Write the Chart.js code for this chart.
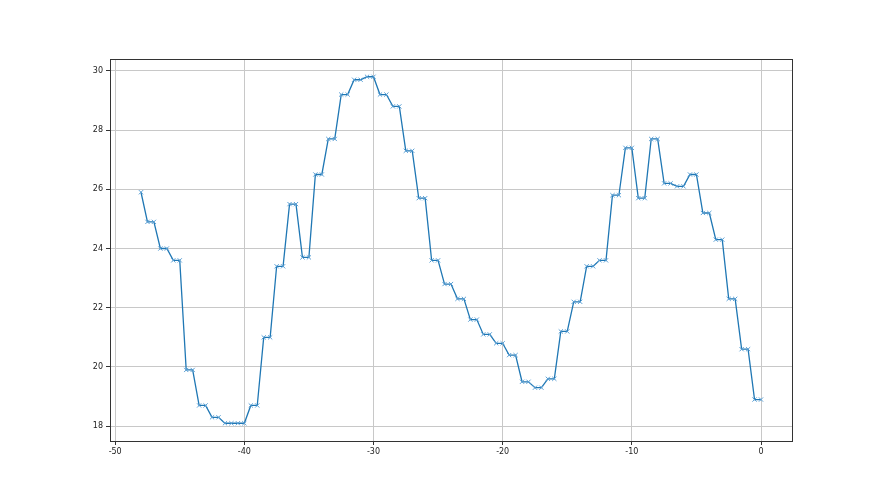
<!DOCTYPE html>
<html>
<head>
<meta charset="utf-8">
<script src="https://cdn.jsdelivr.net/npm/chart.js@4"></script>
<style>
  html, body { margin: 0; padding: 0; background: #fff; }
  #wrap { width: 880px; height: 495px; }
</style>
</head>
<body>
<div id="wrap"><canvas id="lineChart" width="880" height="495"></canvas></div>
<script>
// first sample sits alone at x = -48, then every value repeats at x-0.5 and x
var firstX = -48;
var firstValue = 25.9;
var pairEnds = [-47, -46, -45, -44, -43, -42, -41, -40, -39, -38, -37, -36,
    -35, -34, -33, -32, -31, -30, -29, -28, -27, -26, -25, -24,
    -23, -22, -21, -20, -19, -18, -17, -16, -15, -14, -13, -12,
    -11, -10, -9, -8, -7, -6, -5, -4, -3, -2, -1, 0];
var pairValues = [24.9, 24.0, 23.6, 19.9, 18.7, 18.3, 18.1, 18.1, 18.7, 21.0, 23.4, 25.5,
    23.7, 26.5, 27.7, 29.2, 29.7, 29.8, 29.2, 28.8, 27.3, 25.7, 23.6, 22.8,
    22.3, 21.6, 21.1, 20.8, 20.4, 19.5, 19.3, 19.6, 21.2, 22.2, 23.4, 23.6,
    25.8, 27.4, 25.7, 27.7, 26.2, 26.1, 26.5, 25.2, 24.3, 22.3, 20.6, 18.9];
var xTicks = [-50, -40, -30, -20, -10, 0];
var yTicks = [18, 20, 22, 24, 26, 28, 30];

var points = [{ x: firstX, y: firstValue }];
pairEnds.forEach((x, i) => {
    points.push({ x: x - 0.5, y: pairValues[i] });
    points.push({ x: x, y: pairValues[i] });
});

// box around the plot area (matplotlib spines)
var frame = {
    id: "frame",
    afterDraw(chart) {
        var a = chart.chartArea, c = chart.ctx;
        c.save();
        c.strokeStyle = "#333";
        c.lineWidth = 1;
        c.strokeRect(Math.round(a.left) + 0.5, Math.round(a.top) + 0.5,
            Math.round(a.right - a.left), Math.round(a.bottom - a.top));
        c.restore();
    },
};

Chart.defaults.font.family = "'DejaVu Sans', sans-serif";
Chart.defaults.font.size = 8;
Chart.defaults.color = "#222";

var ctx = document.getElementById("lineChart").getContext("2d");
new Chart(ctx, {
    type: "line",
    data: {
        datasets: [
            {
                data: points,
                borderColor: "#1f77b4",
                backgroundColor: "#1f77b4",
                borderWidth: 1.3,
                pointStyle: "crossRot",
                pointRadius: 3,
                pointBorderColor: "#5a9fd4",
                pointBorderWidth: 1,
                fill: false,
                tension: 0,
            },
        ],
    },
    options: {
        responsive: false,
        animation: false,
        layout: { padding: { left: 0, top: 59, right: 88, bottom: 0 } },
        plugins: { legend: { display: false }, tooltip: { enabled: false } },
        scales: {
            x: {
                type: "linear",
                min: -50.4,
                max: 2.4,
                afterBuildTicks: (s) => { s.ticks = xTicks.map((v) => ({ value: v })); },
                afterFit: (s) => { s.height = 54; },
                grid: { color: "#c8c8c8", tickColor: "#333", tickLength: 4 },
                border: { display: false },
                ticks: { padding: 2, maxRotation: 0 },
            },
            y: {
                min: 17.5,
                max: 30.4,
                afterBuildTicks: (s) => { s.ticks = yTicks.map((v) => ({ value: v })); },
                afterFit: (s) => { s.width = 110; },
                grid: { color: "#c8c8c8", tickColor: "#333", tickLength: 4 },
                border: { display: false },
                ticks: { padding: 3 },
            },
        },
    },
    plugins: [frame],
});
</script>
</body>
</html>
